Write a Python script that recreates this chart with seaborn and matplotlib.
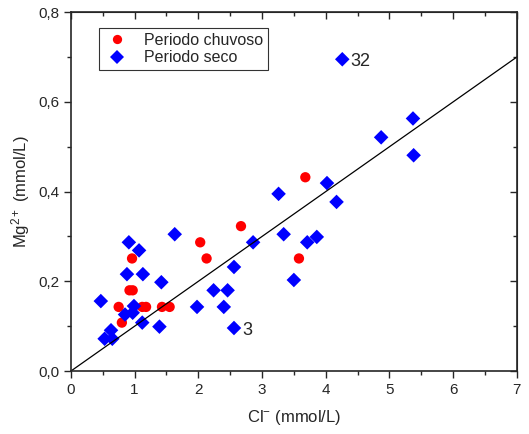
import numpy as np
import pandas as pd
import seaborn as sns
import matplotlib.pyplot as plt
from matplotlib.ticker import MultipleLocator, FuncFormatter

# Periodo chuvoso (red circles)
cl_chuvoso = [2.67, 2.03, 2.13, 0.96, 0.92, 0.97, 0.75, 1.12, 1.18, 1.43, 1.55, 0.80, 3.68, 3.58]
mg_chuvoso = [0.323, 0.287, 0.251, 0.251, 0.180, 0.180, 0.143, 0.143, 0.143, 0.143, 0.143, 0.108, 0.432, 0.251]

# Periodo seco (blue diamonds)
cl_seco = [1.63, 0.91, 1.07, 0.88, 1.13, 1.42, 0.47, 0.99, 0.85, 0.97, 1.12, 1.39, 0.63, 0.53, 0.65,
           1.98, 2.24, 2.46, 2.40, 2.56, 2.56, 2.86, 4.26, 5.37, 4.87, 5.38, 4.02, 3.26, 4.17, 3.34,
           3.86, 3.71, 3.50]
mg_seco = [0.305, 0.287, 0.269, 0.216, 0.216, 0.198, 0.156, 0.145, 0.126, 0.130, 0.108, 0.099, 0.091,
           0.072, 0.072, 0.143, 0.180, 0.180, 0.143, 0.232, 0.096, 0.287, 0.695, 0.563, 0.521, 0.481,
           0.419, 0.395, 0.377, 0.305, 0.299, 0.287, 0.203]

# labelled samples
labels = ['32', '3']
label_x = [4.26, 2.56]
label_y = [0.695, 0.096]

slope = 0.1  # reference line Mg = 0.1 * Cl

df = pd.DataFrame({
    'Cl': cl_chuvoso + cl_seco,
    'Mg': mg_chuvoso + mg_seco,
    'periodo': ['Periodo chuvoso'] * len(cl_chuvoso) + ['Periodo seco'] * len(cl_seco),
})

sns.set_style('ticks')
plt.rcParams['font.family'] = ['Liberation Sans', 'DejaVu Sans']
plt.rcParams['mathtext.fontset'] = 'custom'
plt.rcParams['mathtext.rm'] = 'Liberation Sans'
plt.rcParams['mathtext.default'] = 'regular'

fig = plt.figure(figsize=(5.29, 4.34), dpi=100)
ax = fig.add_axes([0.134, 0.145, 0.843, 0.827])

sns.scatterplot(data=df, x='Cl', y='Mg', hue='periodo', style='periodo',
                palette={'Periodo chuvoso': 'red', 'Periodo seco': 'blue'},
                markers={'Periodo chuvoso': 'o', 'Periodo seco': 'D'},
                s=55, linewidth=0, ax=ax)

xs = np.array([0, 7])
ax.plot(xs, slope * xs, color='black', lw=0.9, zorder=1)

for t, x, y in zip(labels, label_x, label_y):
    ax.text(x + 0.13, y - 0.006, t, fontsize=13, va='center', ha='left')

ax.set_xlim(0, 7)
ax.set_ylim(0, 0.8)
ax.xaxis.set_major_locator(MultipleLocator(1))
ax.xaxis.set_minor_locator(MultipleLocator(0.5))
ax.yaxis.set_major_locator(MultipleLocator(0.2))
ax.yaxis.set_minor_locator(MultipleLocator(0.1))
ax.yaxis.set_major_formatter(FuncFormatter(lambda v, p: f'{v:.1f}'.replace('.', ',')))
ax.tick_params(which='major', direction='out', length=5, width=1, labelsize=11)
ax.tick_params(which='minor', direction='out', length=3, width=1)

# inward ticks on top and right
top = ax.secondary_xaxis('top')
top.xaxis.set_major_locator(MultipleLocator(1))
top.xaxis.set_minor_locator(MultipleLocator(0.5))
top.tick_params(which='major', direction='in', length=5, width=1, labeltop=False)
top.tick_params(which='minor', direction='in', length=3, width=1)
right = ax.secondary_yaxis('right')
right.yaxis.set_major_locator(MultipleLocator(0.2))
right.yaxis.set_minor_locator(MultipleLocator(0.1))
right.tick_params(which='major', direction='in', length=5, width=1, labelright=False)
right.tick_params(which='minor', direction='in', length=3, width=1)

for sp in ax.spines.values():
    sp.set_linewidth(1.2)

ax.set_xlabel('Cl$^{-}$ (mmol/L)', fontsize=12, labelpad=8)
ax.set_ylabel('Mg$^{2+}$ (mmol/L)', fontsize=12)

leg = ax.legend(loc='upper left', bbox_to_anchor=(0.045, 0.978), frameon=True, fancybox=False,
                edgecolor='black', fontsize=11.5, handletextpad=0.9, borderpad=0.3,
                labelspacing=0.15, markerscale=0.9, handlelength=1.6)
leg.get_frame().set_linewidth(0.8)

fig.savefig('out.png', dpi=100)
